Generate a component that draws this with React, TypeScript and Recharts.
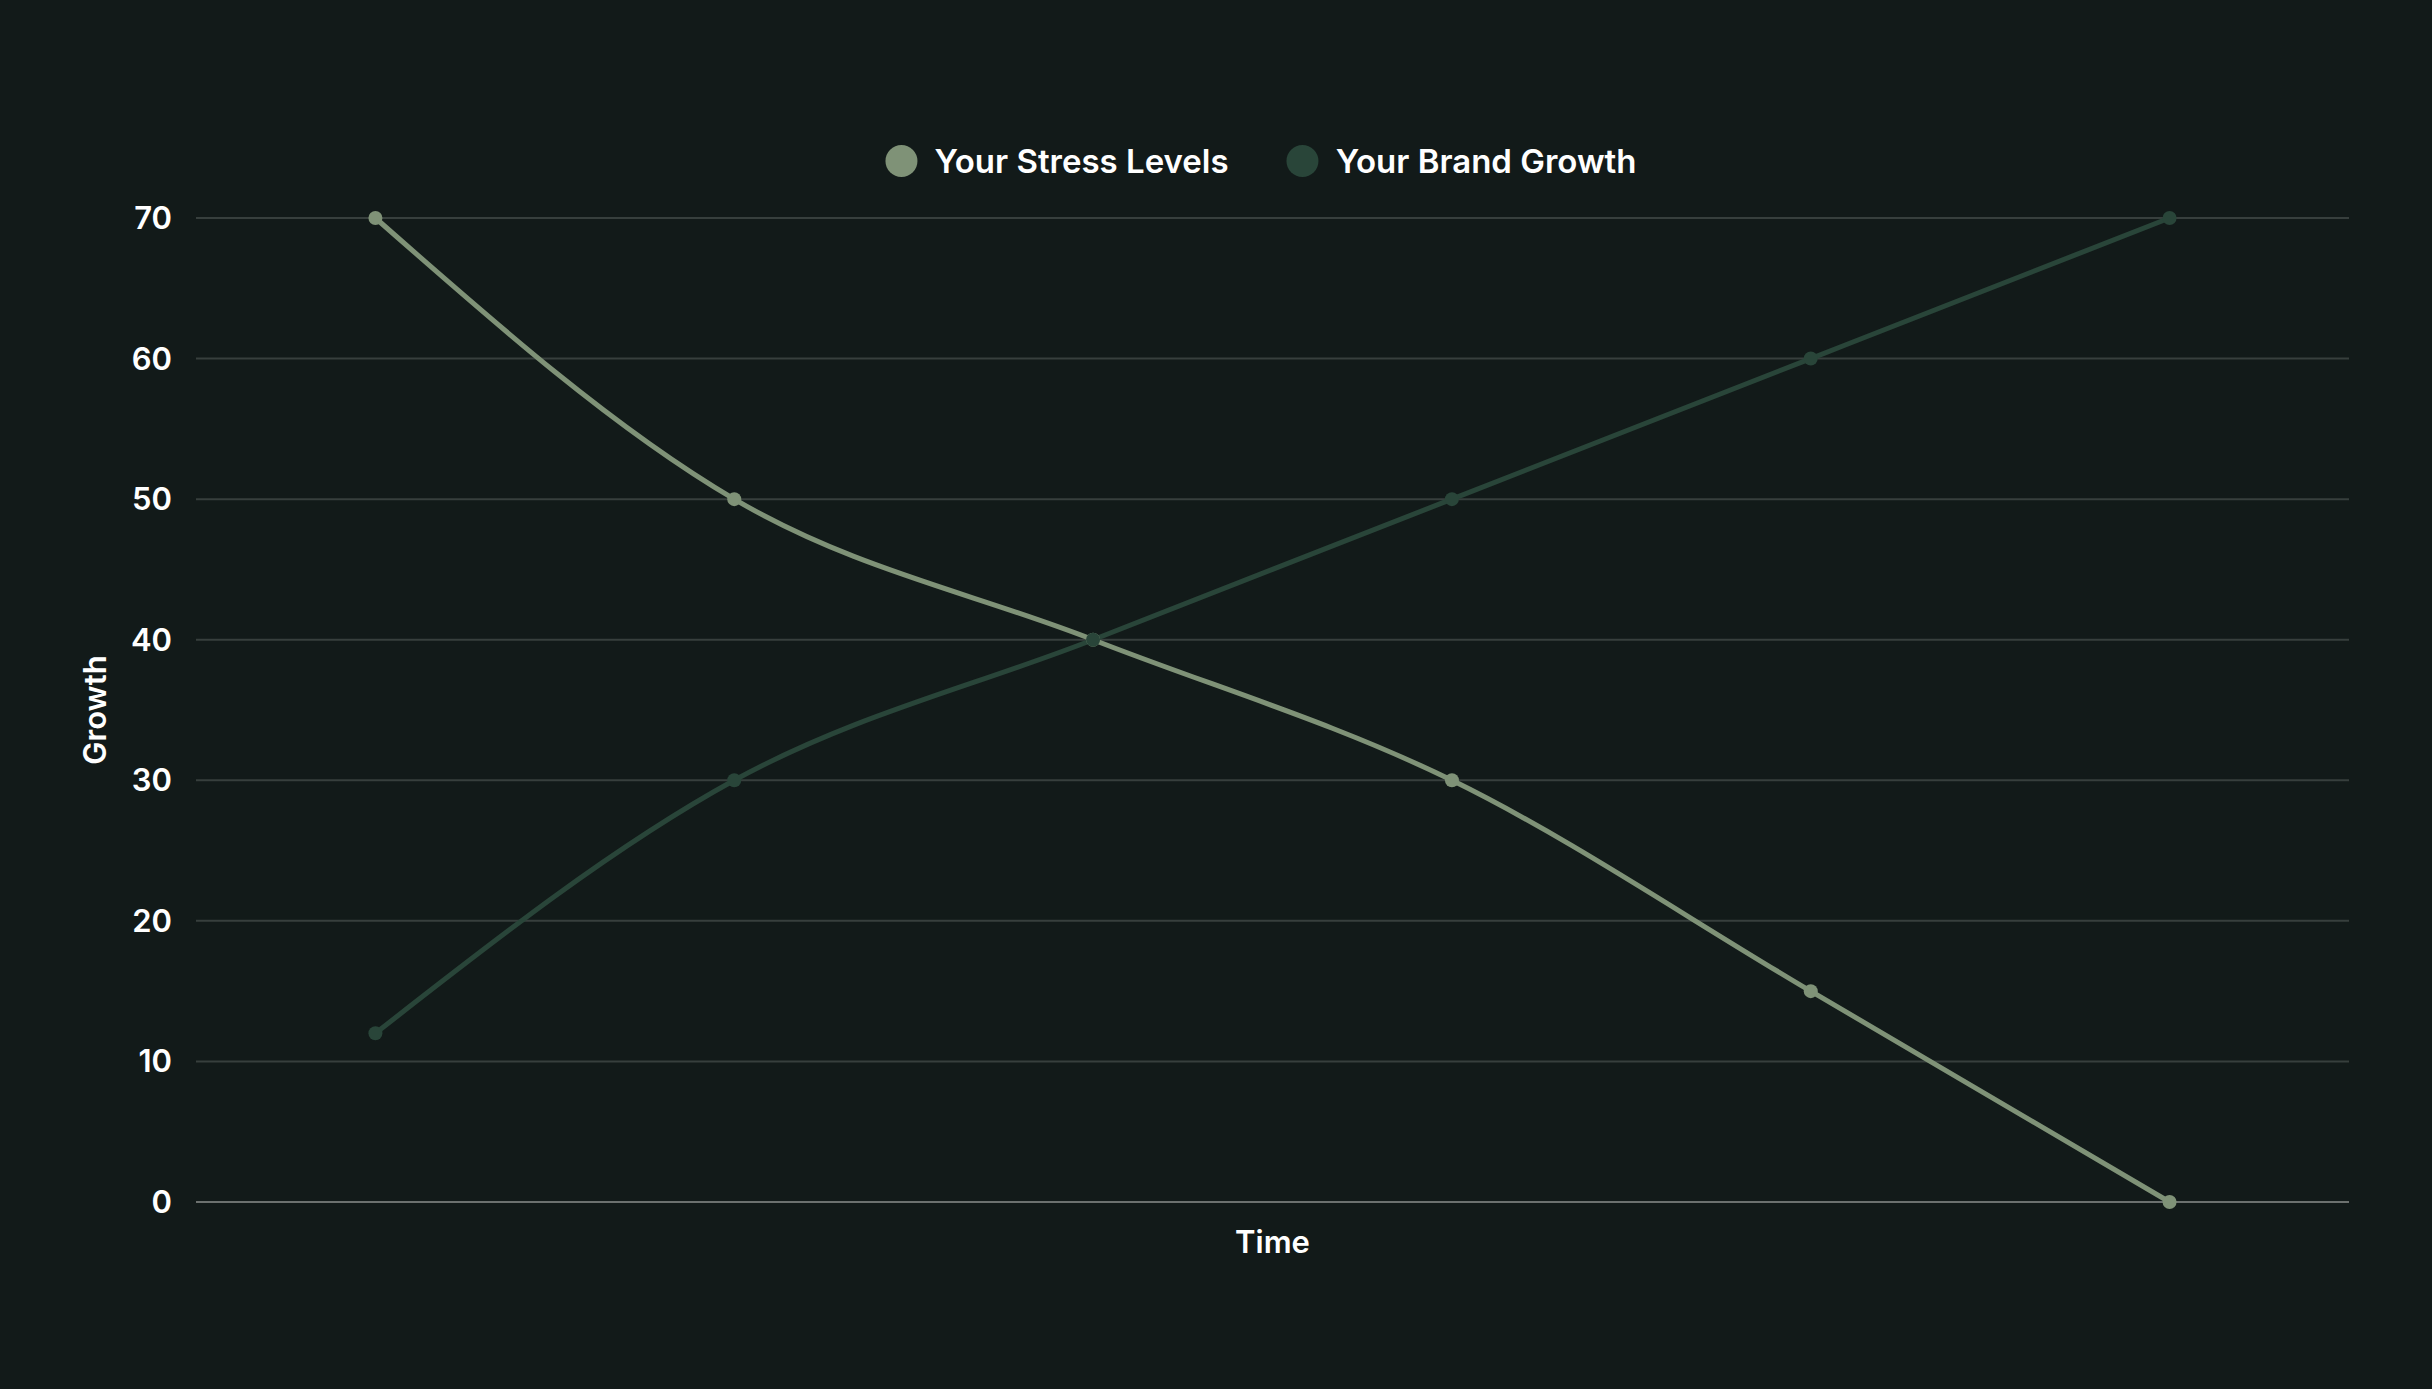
import React from 'react';
import { LineChart, Line, XAxis, YAxis, CartesianGrid, Label } from 'recharts';

const periods = ['P1', 'P2', 'P3', 'P4', 'P5', 'P6'];
const stressLevels = [70, 50, 40, 30, 15, 0];
const brandGrowth = [12, 30, 40, 50, 60, 70];
const yTicks = [0, 10, 20, 30, 40, 50, 60, 70];

const SERIES = [
  { key: 'stress', name: 'Your Stress Levels', color: '#7f9277' },
  { key: 'brand', name: 'Your Brand Growth', color: '#294539' },
];

const BG = '#121a19';
const FONT = 'Inter, "Open Sans", sans-serif';

const data = periods.map((p, i) => ({
  name: p,
  stress: stressLevels[i],
  brand: brandGrowth[i],
}));

const YTitle = ({ viewBox }: any) => {
  const cx = viewBox.x - 2;
  const cy = viewBox.y + viewBox.height / 2;
  return (
    <text
      x={cx}
      y={cy}
      transform={`rotate(-90, ${cx}, ${cy})`}
      textAnchor="middle"
      dominantBaseline="central"
      fill="#ffffff"
      fontSize={31}
      fontWeight={600}
      fontFamily={FONT}
    >
      Growth
    </text>
  );
};

const XTitle = ({ viewBox }: any) => (
  <text
    x={viewBox.x + viewBox.width / 2}
    y={viewBox.y + 39}
    textAnchor="middle"
    dominantBaseline="central"
    fill="#ffffff"
    fontSize={31}
    fontWeight={600}
    fontFamily={FONT}
  >
    Time
  </text>
);

export default function App() {
  return (
    <div style={{ position: 'fixed', left: 0, top: 0, width: 2432, height: 1389, background: BG, fontFamily: FONT }}>
      {/* legend */}
      <div
        style={{
          position: 'absolute',
          left: 1261,
          top: 161,
          transform: 'translate(-50%, -50%)',
          display: 'flex',
          alignItems: 'center',
          whiteSpace: 'nowrap',
        }}
      >
        {SERIES.map((s, i) => (
          <div key={s.key} style={{ display: 'flex', alignItems: 'center', marginLeft: i === 0 ? 0 : 58 }}>
            <span style={{ width: 32, height: 32, borderRadius: '50%', background: s.color, display: 'inline-block' }} />
            <span style={{ marginLeft: 17, color: '#ffffff', fontSize: 33, fontWeight: 600 }}>{s.name}</span>
          </div>
        ))}
      </div>
      <LineChart width={2432} height={1389} data={data} margin={{ top: 218, right: 83, bottom: 107, left: 96 }}>
        <CartesianGrid vertical={false} stroke="#373f3d" strokeWidth={2} />
        <XAxis
          dataKey="name"
          scale="band"
          tick={false}
          tickLine={false}
          axisLine={{ stroke: '#6c716f', strokeWidth: 2 }}
          height={80}
        >
          <Label content={<XTitle />} />
        </XAxis>
        <YAxis
          domain={[0, 70]}
          ticks={yTicks}
          width={100}
          axisLine={false}
          tickLine={false}
          tickSize={0}
          tickMargin={24}
          tick={{ fill: '#ffffff', fontSize: 31, fontWeight: 600, fontFamily: FONT }}
        >
          <Label content={<YTitle />} />
        </YAxis>
        {SERIES.map((s) => (
          <Line
            key={s.key}
            type="monotone"
            dataKey={s.key}
            name={s.name}
            stroke={s.color}
            strokeWidth={5}
            dot={{ r: 7, fill: s.color, stroke: 'none' }}
            activeDot={false}
            isAnimationActive={false}
          />
        ))}
      </LineChart>
    </div>
  );
}
